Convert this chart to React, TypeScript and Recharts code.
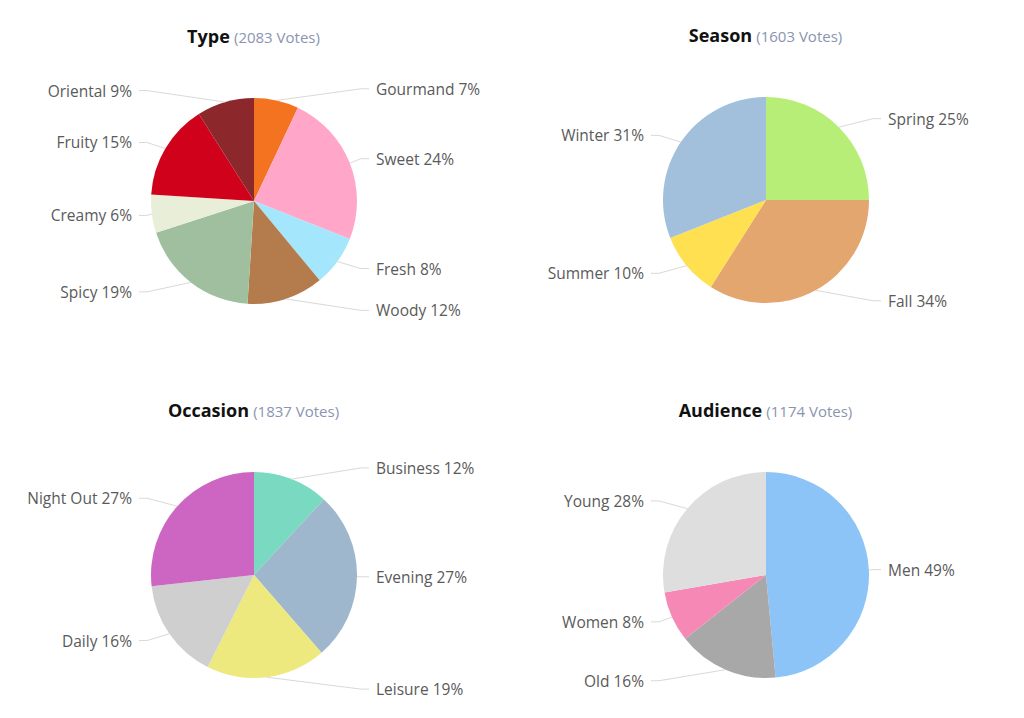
import { PieChart, Pie, Cell } from 'recharts';

// Type (2083 votes)
const typeNames = ['Gourmand', 'Sweet', 'Fresh', 'Woody', 'Spicy', 'Creamy', 'Fruity', 'Oriental'];
const typeValues = [7, 24, 8, 12, 19, 6, 15, 9];
const typeColors = ['#f47320', '#ffa6c9', '#a4e6fb', '#b47c4c', '#9fbf9f', '#e9eed8', '#d0021b', '#8c272c'];

// Season (1603 votes)
const seasonNames = ['Spring', 'Fall', 'Summer', 'Winter'];
const seasonValues = [25, 34, 10, 31];
const seasonColors = ['#b7ee77', '#e3a66f', '#fee050', '#a2bfdc'];

// Occasion (1837 votes)
const occasionNames = ['Business', 'Evening', 'Leisure', 'Daily', 'Night Out'];
const occasionValues = [12, 27, 19, 16, 27];
const occasionColors = ['#79d9c1', '#9eb7cc', '#ede97f', '#cfcfcf', '#cd66c3'];

// Audience (1174 votes)
const audienceNames = ['Men', 'Old', 'Women', 'Young'];
const audienceValues = [49, 16, 8, 28];
const audienceColors = ['#8cc4f7', '#a8a8a8', '#f688b5', '#dedede'];

const RADIAN = Math.PI / 180;
const FONT = '"Open Sans", sans-serif';

const renderLabel = (props: any) => {
  const { cx, cy, midAngle, outerRadius, payload } = props;
  const cos = Math.cos(-midAngle * RADIAN);
  const sin = Math.sin(-midAngle * RADIAN);
  const right = cos >= 0;
  const sx = cx + outerRadius * cos;
  const sy = cy + outerRadius * sin;
  const ly = cy + (outerRadius + 12) * sin;
  const dir = right ? 1 : -1;
  const bendX = cx + dir * (outerRadius + 4);
  const endX = cx + dir * (outerRadius + 12);
  const textX = cx + dir * (outerRadius + 19);
  return (
    <g>
      <path
        d={`M${sx},${sy}L${bendX},${ly}L${endX},${ly}`}
        stroke="#d9d9d9"
        strokeWidth={1}
        fill="none"
      />
      <text
        x={textX}
        y={ly}
        textAnchor={right ? 'start' : 'end'}
        dominantBaseline="central"
        fill="#5a5a5a"
        fontSize={15.5}
        fontFamily={FONT}
      >
        {`${payload.name} ${payload.value}%`}
      </text>
    </g>
  );
};

function PiePanel({ title, votes, names, values, colors, left, top }: any) {
  const data = names.map((n: string, i: number) => ({ name: n, value: values[i] }));
  return (
    <div style={{ position: 'absolute', left, top, width: 512, height: 359 }}>
      <div
        style={{
          position: 'absolute',
          left: 0,
          width: 507,
          top: 24,
          textAlign: 'center',
          fontFamily: FONT,
          lineHeight: '24px',
          whiteSpace: 'nowrap',
        }}
      >
        <span style={{ fontWeight: 700, fontSize: 18, color: '#111111' }}>{title}</span>{' '}
        <span style={{ fontSize: 15, color: '#8a94b0' }}>({votes} Votes)</span>
      </div>
      <PieChart
        width={512}
        height={359}
        margin={{ top: 0, right: 0, bottom: 0, left: 0 }}
        style={{ position: 'absolute', left: 0, top: 0 }}
      >
        <Pie
          data={data}
          dataKey="value"
          nameKey="name"
          cx={254}
          cy={201}
          outerRadius={103}
          startAngle={90}
          endAngle={-270}
          stroke="none"
          label={renderLabel}
          labelLine={false}
          isAnimationActive={false}
        >
          {data.map((_: any, i: number) => (
            <Cell key={i} fill={colors[i]} />
          ))}
        </Pie>
      </PieChart>
    </div>
  );
}

export default function App() {
  return (
    <div style={{ position: 'absolute', left: 0, top: 0, width: 1024, height: 718, background: '#ffffff' }}>
      <PiePanel title="Type" votes={2083} names={typeNames} values={typeValues} colors={typeColors} left={0} top={0} />
      <PiePanel title="Season" votes={1603} names={seasonNames} values={seasonValues} colors={seasonColors} left={512} top={-1} />
      <PiePanel title="Occasion" votes={1837} names={occasionNames} values={occasionValues} colors={occasionColors} left={0} top={374} />
      <PiePanel title="Audience" votes={1174} names={audienceNames} values={audienceValues} colors={audienceColors} left={512} top={374} />
    </div>
  );
}
